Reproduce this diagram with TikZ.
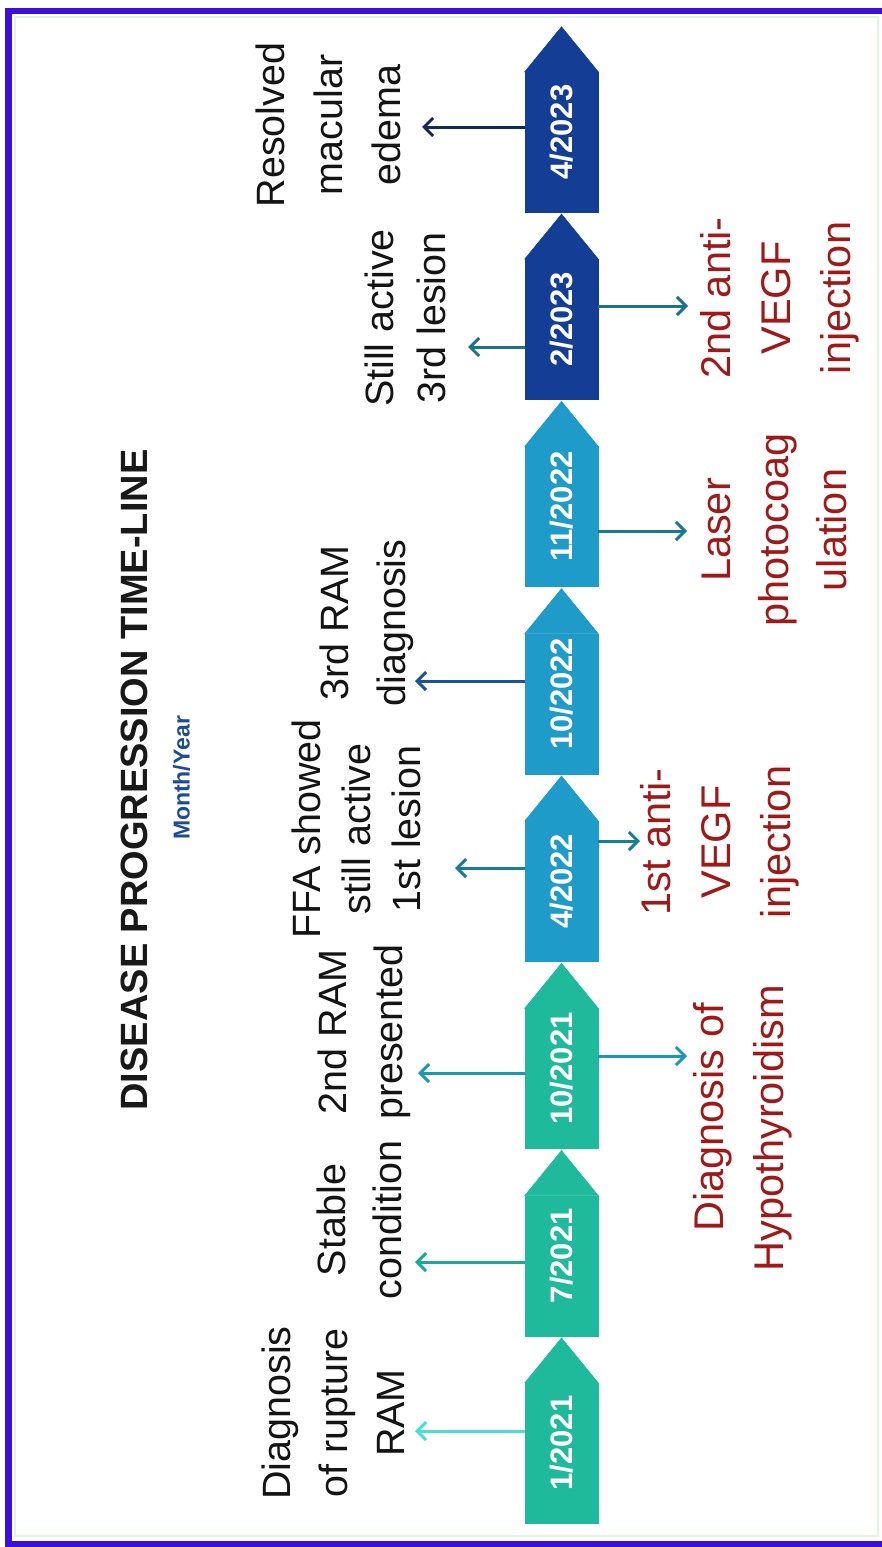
\documentclass[tikz,border=0pt]{standalone}
\usepackage{fontspec}
\setmainfont{Liberation Sans}
\usetikzlibrary{arrows.meta}
\definecolor{frameblue}{RGB}{58,16,216}
\definecolor{innergreen}{RGB}{226,243,229}
\definecolor{bgreen}{RGB}{31,185,156}
\definecolor{bblue}{RGB}{30,155,200}
\definecolor{bnavy}{RGB}{20,62,150}
\definecolor{aone}{RGB}{70,225,210}
\definecolor{atwo}{RGB}{25,170,150}
\definecolor{athree}{RGB}{30,150,180}
\definecolor{afour}{RGB}{25,125,150}
\definecolor{afive}{RGB}{25,85,150}
\definecolor{asix}{RGB}{25,120,150}
\definecolor{aseven}{RGB}{25,115,140}
\definecolor{aeight}{RGB}{15,40,100}
\definecolor{redtxt}{RGB}{160,25,25}
\definecolor{subblue}{RGB}{30,75,150}
\begin{document}
\begin{tikzpicture}[x=1pt,y=-1pt,
  datebox/.style={rotate=90, minimum width=140pt, minimum height=73pt, inner sep=0pt,
    text=white, font=\fontsize{31}{31}\bfseries\selectfont, draw=#1, fill=#1, line width=0.5pt},
  lbl/.style={rotate=90, inner sep=0pt, align=center, anchor=north},
  blk/.style={lbl, text=black!92, font=\fontsize{39.5}{#1}\selectfont},
  redlbl/.style={lbl, text=redtxt, font=\fontsize{41.5}{#1}\selectfont},
  arr/.style={line width=3pt, -{Straight Barb[length=9pt,width=18pt]}}
]
\useasboundingbox (0,0) rectangle (882,1547);
\fill[white] (0,0) rectangle (882,1547);
% frame
\draw[innergreen, line width=2pt] (15,17) rectangle (878,1536);
\fill[frameblue] (5,8) rectangle (12,1547);
\fill[frameblue] (5,8) rectangle (882,14);
\fill[frameblue] (5,1541) rectangle (882,1547);

% title
\node[rotate=90, inner sep=0pt, font=\fontsize{38}{38}\bfseries\selectfont, text=black!90] (title) at (134,780) {DISEASE PROGRESSION TIME-LINE};
\node[rotate=90, inner sep=0pt, font=\fontsize{23}{23}\bfseries\selectfont, text=subblue] (sub) at (181.5,778) {Month/Year};

% date boxes
\node[datebox=bgreen] (d1) at (561.5,1453.1) {\hspace*{20pt}1/2021};
\node[datebox=bgreen] (d2) at (561.5,1265.8) {\hspace*{20pt}7/2021};
\node[datebox=bgreen] (d3) at (561.5,1078.5) {\hspace*{20pt}10/2021};
\node[datebox=bblue] (d4) at (561.5,891.2) {\hspace*{20pt}4/2022};
\node[datebox=bblue] (d5) at (561.5,703.9) {\hspace*{20pt}10/2022};
\node[datebox=bblue] (d6) at (561.5,516.6) {\hspace*{20pt}11/2022};
\node[datebox=bnavy] (d7) at (561.5,329.3) {\hspace*{20pt}2/2023};
\node[datebox=bnavy] (d8) at (561.5,142) {\hspace*{20pt}4/2023};
\foreach \n/\c in {d1/bgreen,d2/bgreen,d3/bgreen,d4/bblue,d5/bblue,d6/bblue,d7/bnavy,d8/bnavy}{
  \filldraw[\c, line width=0.5pt] (\n.north east) -- ([yshift=45pt]\n.east) -- (\n.south east) -- cycle;
}

% left labels
\node[blk=57] (l1) at (262,1413) {Diagnosis\\of rupture\\RAM};
\node[blk=56] (l2) at (317,1220) {Stable\\condition};
\node[blk=56] (l3) at (318,1032) {2nd RAM\\presented};
\node[blk=50] (l4) at (292,829) {FFA showed\\still active\\1st lesion};
\node[blk=57] (l5) at (320,623) {3rd RAM\\diagnosis};
\node[blk=52] (l6) at (365,318) {Still active\\3rd lesion};
\node[blk=58] (l7) at (256,125) {Resolved\\macular\\edema};

% right labels
\node[redlbl=60, align=right, anchor=north east] (r1) at (693,985) {Diagnosis of\hspace*{18pt}\\Hypothyroidism};
\node[redlbl=60] (r2) at (640,842) {1st anti-\\VEGF\\injection};
\node[redlbl=58] (r3) at (702,530) {Laser\\photocoag\\ulation};
\node[redlbl=60] (r4) at (700,298) {2nd anti-\\VEGF\\injection};

% arrow end points
\coordinate (e1) at (415,1431);
\coordinate (e2) at (415,1262);
\coordinate (e3) at (418,1073);
\coordinate (e4) at (455,868);
\coordinate (e5) at (415,681);
\coordinate (e7) at (468,347);
\coordinate (e8) at (422,127);
\coordinate (f3) at (687,1056);
\coordinate (f4) at (640,841);
\coordinate (f6) at (687,531);
\coordinate (f7) at (688,306);

\draw[arr, aone] (d1.north |- e1) -- (e1);
\draw[arr, atwo] (d2.north |- e2) -- (e2);
\draw[arr, athree] (d3.north |- e3) -- (e3);
\draw[arr, afour] (d4.north |- e4) -- (e4);
\draw[arr, afive] (d5.north |- e5) -- (e5);
\draw[arr, aseven] (d7.north |- e7) -- (e7);
\draw[arr, aeight] (d8.north |- e8) -- (e8);
\draw[arr, athree] (d3.south |- f3) -- (f3);
\draw[arr, afour] (d4.south |- f4) -- (f4);
\draw[arr, asix] (d6.south |- f6) -- (f6);
\draw[arr, aseven] (d7.south |- f7) -- (f7);
\end{tikzpicture}
\end{document}
